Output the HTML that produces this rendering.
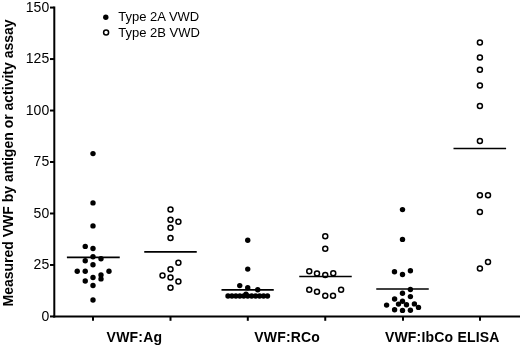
<!DOCTYPE html>
<html><head><meta charset="utf-8"><title>chart</title>
<style>
html,body{margin:0;padding:0;background:#fff;}
body{width:520px;height:345px;overflow:hidden;}
svg{display:block;will-change:transform;}
text{font-family:"Liberation Sans",sans-serif;fill:#000;}
.t{font-size:14px;}
.b{font-size:14px;font-weight:bold;}
.x{letter-spacing:0.2px;}
.l{font-size:13px;}
</style></head><body>
<svg width="520" height="345" viewBox="0 0 520 345">
<rect width="520" height="345" fill="#fff"/>

<g stroke="#000" stroke-width="2" fill="none">
<path d="M54.3 6.45V317.4"/>
<path d="M53.3 316.4H520"/>
</g>
<g stroke="#000" stroke-width="2" fill="none">
<path d="M50 316.45H54.3"/>
<path d="M50 264.97H54.3"/>
<path d="M50 213.49H54.3"/>
<path d="M50 162.01H54.3"/>
<path d="M50 110.53H54.3"/>
<path d="M50 59.05H54.3"/>
<path d="M50 7.57H54.3"/>
<path d="M93.00 316.3V320.8"/>
<path d="M170.50 316.3V320.8"/>
<path d="M247.80 316.3V320.8"/>
<path d="M325.25 316.3V320.8"/>
<path d="M403.00 316.3V320.8"/>
<path d="M480.00 316.3V320.8"/>
</g>
<text class="t" x="49.2" y="320.75" text-anchor="end">0</text>
<text class="t" x="49.2" y="269.27" text-anchor="end">25</text>
<text class="t" x="49.2" y="217.79" text-anchor="end">50</text>
<text class="t" x="49.2" y="166.31" text-anchor="end">75</text>
<text class="t" x="49.2" y="114.83" text-anchor="end">100</text>
<text class="t" x="49.2" y="63.35" text-anchor="end">125</text>
<text class="t" x="49.2" y="11.87" text-anchor="end">150</text>
<text class="b x" x="106.6" y="341.5">VWF:Ag</text>
<text class="b x" x="254.2" y="341.5">VWF:RCo</text>
<text class="b x" x="384.9" y="341.5">VWF:IbCo ELISA</text>
<text class="b" transform="translate(12.7 306.5) rotate(-90)">Measured VWF by antigen or activity assay</text>
<circle cx="105.8" cy="17.2" r="2.7"/>
<circle cx="106.1" cy="32.6" r="2.5" fill="#fff" stroke="#000" stroke-width="1.5"/>
<text class="l" x="118.3" y="21.1">Type 2A VWD</text>
<text class="l" x="118.3" y="36.8">Type 2B VWD</text>
<g fill="#000">
<circle cx="93.00" cy="153.60" r="2.7"/>
<circle cx="93.00" cy="202.90" r="2.7"/>
<circle cx="93.00" cy="225.90" r="2.7"/>
<circle cx="85.25" cy="246.40" r="2.7"/>
<circle cx="93.00" cy="248.50" r="2.7"/>
<circle cx="93.00" cy="256.75" r="2.7"/>
<circle cx="85.25" cy="260.75" r="2.7"/>
<circle cx="101.00" cy="258.75" r="2.7"/>
<circle cx="93.00" cy="264.75" r="2.7"/>
<circle cx="77.25" cy="271.25" r="2.7"/>
<circle cx="85.25" cy="271.25" r="2.7"/>
<circle cx="109.00" cy="271.25" r="2.7"/>
<circle cx="101.00" cy="275.00" r="2.7"/>
<circle cx="93.00" cy="277.50" r="2.7"/>
<circle cx="101.00" cy="278.90" r="2.7"/>
<circle cx="85.25" cy="281.00" r="2.7"/>
<circle cx="93.00" cy="285.50" r="2.7"/>
<circle cx="93.00" cy="300.00" r="2.7"/>
<circle cx="247.75" cy="240.25" r="2.7"/>
<circle cx="247.75" cy="269.10" r="2.7"/>
<circle cx="239.75" cy="285.60" r="2.7"/>
<circle cx="247.75" cy="287.75" r="2.7"/>
<circle cx="257.75" cy="289.75" r="2.7"/>
<circle cx="246.00" cy="294.20" r="2.7"/>
<circle cx="228.00" cy="296.00" r="2.7"/>
<circle cx="231.95" cy="296.00" r="2.7"/>
<circle cx="235.90" cy="296.00" r="2.7"/>
<circle cx="239.85" cy="296.00" r="2.7"/>
<circle cx="243.80" cy="296.00" r="2.7"/>
<circle cx="247.75" cy="296.00" r="2.7"/>
<circle cx="251.70" cy="296.00" r="2.7"/>
<circle cx="255.65" cy="296.00" r="2.7"/>
<circle cx="259.60" cy="296.00" r="2.7"/>
<circle cx="263.55" cy="296.00" r="2.7"/>
<circle cx="267.50" cy="296.00" r="2.7"/>
<circle cx="402.50" cy="209.60" r="2.7"/>
<circle cx="402.50" cy="239.40" r="2.7"/>
<circle cx="394.50" cy="271.70" r="2.7"/>
<circle cx="410.40" cy="270.80" r="2.7"/>
<circle cx="402.50" cy="274.50" r="2.7"/>
<circle cx="410.40" cy="289.50" r="2.7"/>
<circle cx="402.50" cy="293.20" r="2.7"/>
<circle cx="410.40" cy="296.60" r="2.7"/>
<circle cx="394.60" cy="299.00" r="2.7"/>
<circle cx="402.50" cy="301.25" r="2.7"/>
<circle cx="398.50" cy="304.10" r="2.7"/>
<circle cx="406.50" cy="304.75" r="2.7"/>
<circle cx="414.40" cy="303.90" r="2.7"/>
<circle cx="386.60" cy="305.10" r="2.7"/>
<circle cx="418.50" cy="307.40" r="2.7"/>
<circle cx="394.60" cy="309.70" r="2.7"/>
<circle cx="402.50" cy="310.40" r="2.7"/>
<circle cx="410.40" cy="310.25" r="2.7"/>
</g>
<g fill="#fff" stroke="#000" stroke-width="1.5">
<circle cx="170.50" cy="209.50" r="2.5"/>
<circle cx="170.50" cy="219.75" r="2.5"/>
<circle cx="178.40" cy="221.75" r="2.5"/>
<circle cx="170.50" cy="227.75" r="2.5"/>
<circle cx="170.50" cy="238.10" r="2.5"/>
<circle cx="178.40" cy="262.75" r="2.5"/>
<circle cx="170.50" cy="269.25" r="2.5"/>
<circle cx="162.50" cy="275.40" r="2.5"/>
<circle cx="170.50" cy="277.50" r="2.5"/>
<circle cx="178.40" cy="281.50" r="2.5"/>
<circle cx="170.50" cy="287.75" r="2.5"/>
<circle cx="325.25" cy="236.25" r="2.5"/>
<circle cx="325.25" cy="248.75" r="2.5"/>
<circle cx="309.25" cy="271.25" r="2.5"/>
<circle cx="317.00" cy="273.50" r="2.5"/>
<circle cx="325.25" cy="275.00" r="2.5"/>
<circle cx="333.25" cy="273.25" r="2.5"/>
<circle cx="309.25" cy="289.75" r="2.5"/>
<circle cx="317.00" cy="291.75" r="2.5"/>
<circle cx="325.25" cy="295.75" r="2.5"/>
<circle cx="333.00" cy="295.75" r="2.5"/>
<circle cx="341.10" cy="289.75" r="2.5"/>
<circle cx="479.90" cy="42.50" r="2.5"/>
<circle cx="479.90" cy="57.50" r="2.5"/>
<circle cx="479.90" cy="69.75" r="2.5"/>
<circle cx="479.90" cy="85.40" r="2.5"/>
<circle cx="479.90" cy="105.90" r="2.5"/>
<circle cx="479.90" cy="141.00" r="2.5"/>
<circle cx="479.90" cy="195.25" r="2.5"/>
<circle cx="488.00" cy="195.25" r="2.5"/>
<circle cx="479.90" cy="211.90" r="2.5"/>
<circle cx="488.00" cy="261.90" r="2.5"/>
<circle cx="479.90" cy="268.50" r="2.5"/>
</g>
<g stroke="#000" stroke-width="1.7">
<path d="M66.90 257.40H119.75"/>
<path d="M144.25 251.90H196.75"/>
<path d="M221.50 289.90H273.75"/>
<path d="M299.25 276.50H351.75"/>
<path d="M376.25 289.00H428.75"/>
<path d="M453.50 148.50H506.10"/>
</g>
</svg></body></html>
